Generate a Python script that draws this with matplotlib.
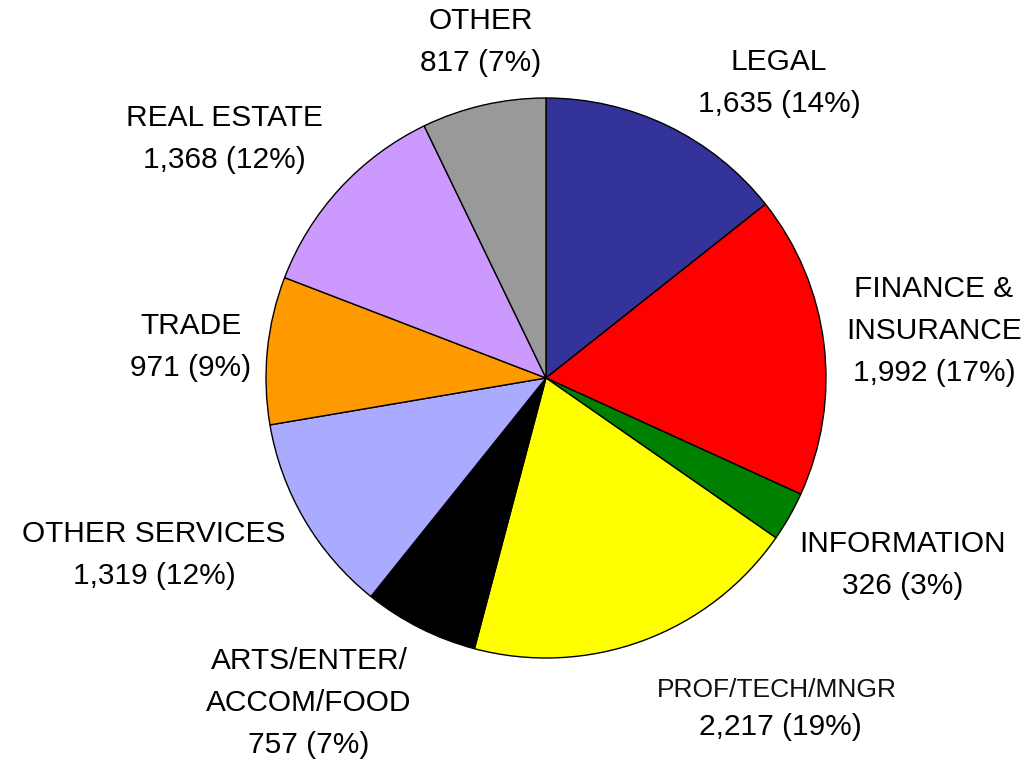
import matplotlib.pyplot as plt

# slices, clockwise from 12 o'clock
sectors = ["LEGAL", "FINANCE &\nINSURANCE", "INFORMATION", "PROF/TECH/MNGR",
           "ARTS/ENTER/\nACCOM/FOOD", "OTHER SERVICES", "TRADE", "REAL ESTATE", "OTHER"]
counts = [1635, 1992, 326, 2217, 757, 1319, 971, 1368, 817]
pcts = [14, 17, 3, 19, 7, 12, 9, 12, 7]
colors = ["#333399", "#ff0000", "#008000", "#ffff00", "#000000",
          "#aaaaff", "#ff9900", "#cc99ff", "#999999"]

# label centres in pixels (x, y from top)
label_px = [(779, 83), (934, 331), (903, 565), (780, 708),
            (309, 703), (154, 555), (191, 347), (224, 139), (481, 42)]

W, H = 1028, 762
cx, cy, R = 546, 378, 280
FS = 21.5
LS = 1.62

fig = plt.figure(figsize=(W / 100, H / 100), dpi=100)
ax = fig.add_axes([0, 0, 1, 1])
ax.axis("off")

ax.pie(counts, colors=colors, startangle=90, counterclock=False, radius=1,
       wedgeprops=dict(edgecolor="black", linewidth=1.0))
ax.set_aspect("equal")
ax.set_xlim(-cx / R, (W - cx) / R)
ax.set_ylim((cy - H) / R, cy / R)

for name, n, p, (px, py) in zip(sectors, counts, pcts, label_px):
    x = (px - cx) / R
    y = (cy - py) / R
    if name == "PROF/TECH/MNGR":
        ax.text(x - 3 / R, y + 18 / R, name, ha="center", va="center", fontsize=19,
                family=["Liberation Sans Narrow", "Liberation Sans"], color="#111111")
        ax.text(x, y - 19 / R, f"{n:,} ({p}%)", ha="center", va="center",
                fontsize=FS, family="Liberation Sans")
    else:
        ax.text(x, y, f"{name}\n{n:,} ({p}%)", ha="center", va="center",
                fontsize=FS, family="Liberation Sans", linespacing=LS)

fig.savefig("out.png", dpi=100)
